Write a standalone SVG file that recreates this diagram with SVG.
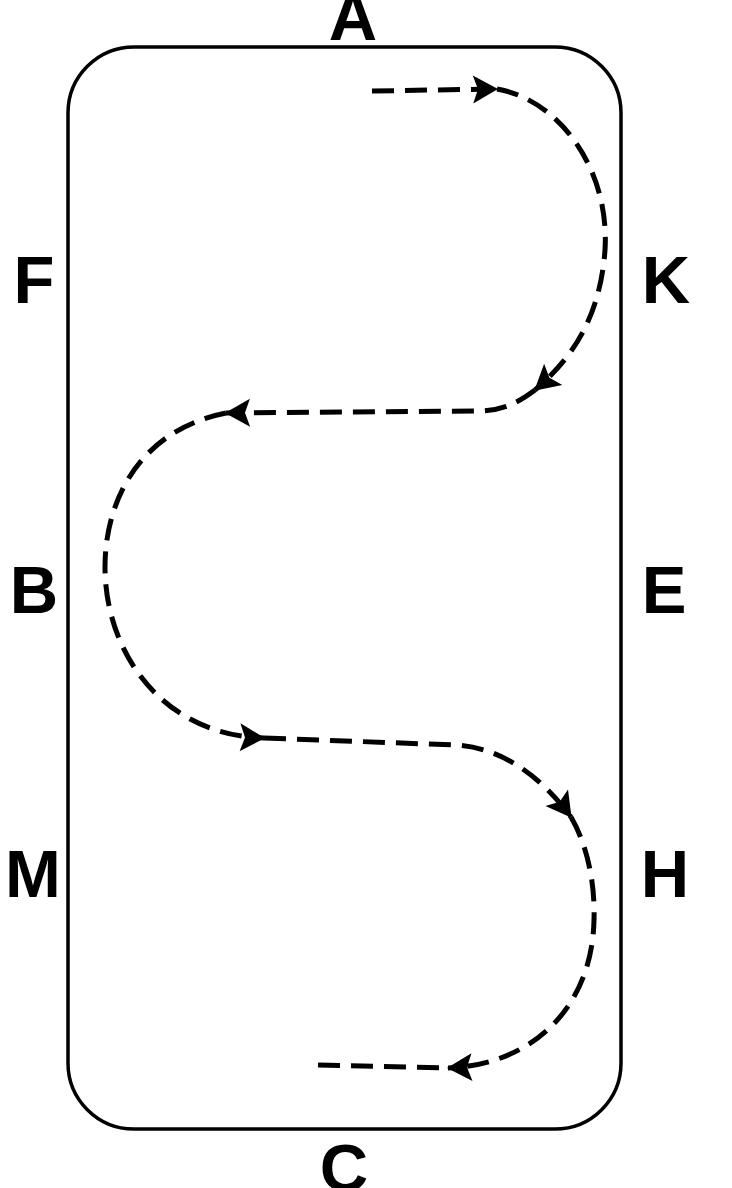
<svg xmlns="http://www.w3.org/2000/svg" width="732" height="1188" viewBox="0 0 732 1188">
  <style>
    .arena { fill: #ffffff; stroke: #000000; stroke-width: 3.5; }
    .lbl { font-family: "Liberation Sans", Arial, sans-serif; font-weight: bold; font-size: 67px; fill: #000000; text-anchor: middle; }
    .path { fill: none; stroke: #000000; stroke-width: 5; stroke-dasharray: 22 11; }
  </style>
  <defs>
    <marker id="arrow" markerUnits="userSpaceOnUse" viewBox="-27 -15 30 30" markerWidth="30" markerHeight="30" refX="0" refY="0" orient="auto">
      <path d="M1,0 L-24,-14 L-19,0 L-24,14 Z" fill="#000000"/>
    </marker>
  </defs>
  <rect width="732" height="1188" fill="#ffffff"/>
  <g id="arena">
    <rect class="arena" x="68" y="47" width="553" height="1082" rx="66" ry="66"/>
  </g>
  <g id="label-A"><text class="lbl" x="353" y="40">A</text></g>
  <g id="label-F"><text class="lbl" x="34" y="303">F</text></g>
  <g id="label-K"><text class="lbl" x="666" y="303">K</text></g>
  <g id="label-B"><text class="lbl" x="34" y="613">B</text></g>
  <g id="label-E"><text class="lbl" x="664" y="613">E</text></g>
  <g id="label-M"><text class="lbl" x="33" y="897">M</text></g>
  <g id="label-H"><text class="lbl" x="665" y="897">H</text></g>
  <g id="label-C"><text class="lbl" x="344" y="1191">C</text></g>
  <g id="connectors">
    <path class="path" d="M372,91 L497,89" marker-end="url(#arrow)"/>
    <path class="path" d="M497,89 C560,100 610,170 605,250 C600,320 570,360 535,390" marker-end="url(#arrow)"/>
    <path class="path" d="M535,390 C515,405 500,411 475,411 L226,413" marker-end="url(#arrow)"/>
    <path class="path" d="M226,413 C140,430 105,500 105,567 C105,650 160,735 264,738" marker-end="url(#arrow)"/>
    <path class="path" d="M264,738 L455,745 C500,747 540,775 571,817" marker-end="url(#arrow)"/>
    <path class="path" d="M571,817 C590,850 595,890 594,920 C592,1010 530,1065 448,1068" marker-end="url(#arrow)"/>
    <path class="path" d="M318,1065 L448,1068"/>
  </g>
</svg>
